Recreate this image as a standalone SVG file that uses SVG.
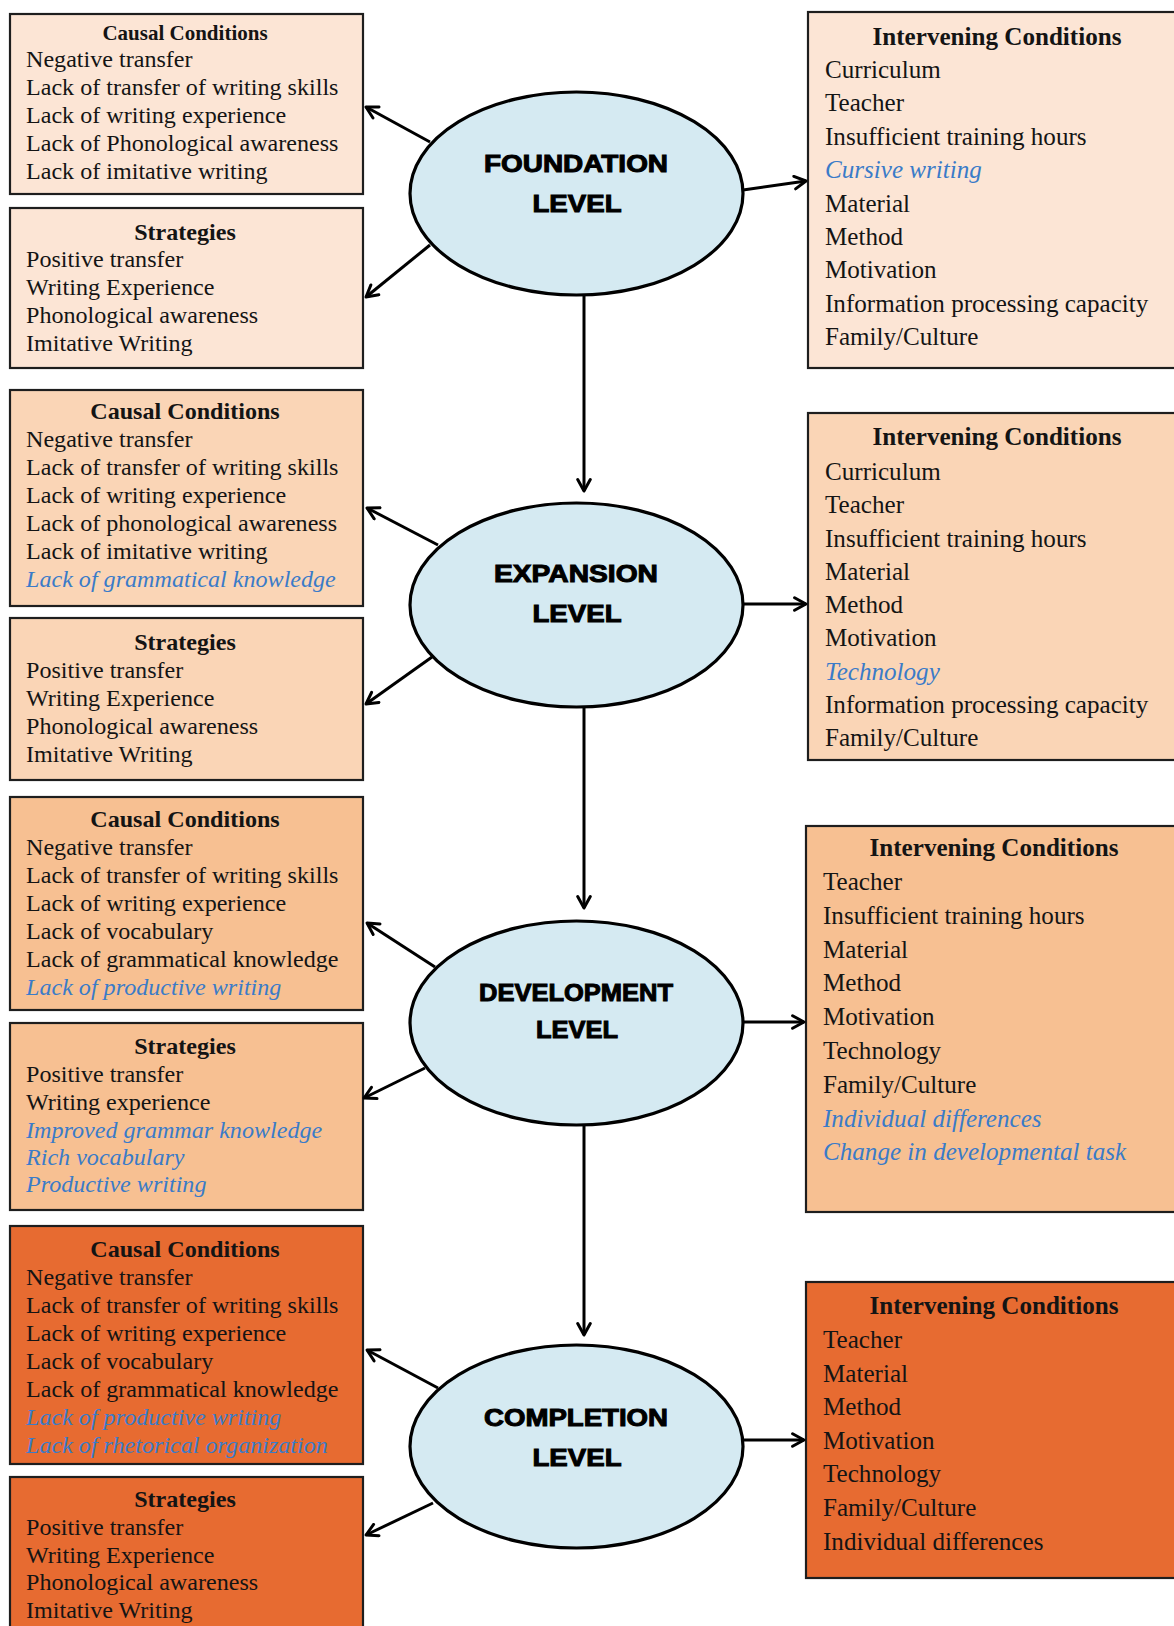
<svg xmlns="http://www.w3.org/2000/svg" width="1174" height="1626" viewBox="0 0 1174 1626">
<style>
.box{stroke:#1e1e1e;stroke-width:2.2}
.f{fill:#fce5d5}.e{fill:#fad5b6}.d{fill:#f7c092}.c{fill:#e76b31}
.t{font-family:"Liberation Serif","Times New Roman",serif;font-size:24.1px;fill:#141414}
.r{font-size:25.1px}
.h{font-weight:bold;text-anchor:middle}
.b{fill:#3a7bc8;font-style:italic}
.ell{fill:#d5eaf2;stroke:#000;stroke-width:3.2}
.lab{font-family:"Liberation Sans",Arial,sans-serif;font-weight:bold;font-size:24px;fill:#000;stroke:#000;stroke-width:1;text-anchor:middle}
.ar{stroke:#000;stroke-width:3;fill:none;marker-end:url(#ah)}
</style>
<defs>
<marker id="ah" viewBox="0 0 14 14" refX="12" refY="7" markerWidth="16" markerHeight="16" markerUnits="userSpaceOnUse" orient="auto">
<path d="M2,1.5 L12,7 L2,12.5" fill="none" stroke="#000" stroke-width="2.6" stroke-linecap="round" stroke-linejoin="round"/>
</marker>
</defs>
<rect width="1174" height="1626" fill="#fff"/>

<!-- FOUNDATION -->
<g id="foundation-causal">
<rect class="box f" x="10" y="14" width="353" height="180"/>
<text class="t h" x="185" y="40" style="font-size:21px">Causal Conditions</text>
<text class="t" x="26" y="67">Negative transfer</text>
<text class="t" x="26" y="95">Lack of transfer of writing skills</text>
<text class="t" x="26" y="123">Lack of writing experience</text>
<text class="t" x="26" y="151">Lack of Phonological awareness</text>
<text class="t" x="26" y="179">Lack of imitative writing</text>
</g>
<g id="foundation-strategies">
<rect class="box f" x="10" y="208" width="353" height="160"/>
<text class="t h" x="185" y="240">Strategies</text>
<text class="t" x="26" y="267">Positive transfer</text>
<text class="t" x="26" y="295">Writing Experience</text>
<text class="t" x="26" y="323">Phonological awareness</text>
<text class="t" x="26" y="351">Imitative Writing</text>
</g>
<g id="foundation-intervening">
<rect class="box f" x="808" y="12" width="380" height="356"/>
<text class="t r h" x="997" y="45">Intervening Conditions</text>
<text class="t r" x="825" y="78">Curriculum</text>
<text class="t r" x="825" y="111">Teacher</text>
<text class="t r" x="825" y="145">Insufficient training hours</text>
<text class="t r b" x="825" y="178">Cursive writing</text>
<text class="t r" x="825" y="212">Material</text>
<text class="t r" x="825" y="245">Method</text>
<text class="t r" x="825" y="278">Motivation</text>
<text class="t r" x="825" y="312">Information processing capacity</text>
<text class="t r" x="825" y="345">Family/Culture</text>
</g>
<g id="foundation-level">
<ellipse class="ell" cx="576.5" cy="193.5" rx="166.5" ry="101.5"/>
<text class="lab" x="576" y="172" textLength="184" lengthAdjust="spacingAndGlyphs">FOUNDATION</text>
<text class="lab" x="577" y="212" textLength="89" lengthAdjust="spacingAndGlyphs">LEVEL</text>
</g>

<!-- EXPANSION -->
<g id="expansion-causal">
<rect class="box e" x="10" y="390" width="353" height="216"/>
<text class="t h" x="185" y="419">Causal Conditions</text>
<text class="t" x="26" y="447">Negative transfer</text>
<text class="t" x="26" y="475">Lack of transfer of writing skills</text>
<text class="t" x="26" y="503">Lack of writing experience</text>
<text class="t" x="26" y="531">Lack of phonological awareness</text>
<text class="t" x="26" y="559">Lack of imitative writing</text>
<text class="t b" x="26" y="587">Lack of grammatical knowledge</text>
</g>
<g id="expansion-strategies">
<rect class="box e" x="10" y="618" width="353" height="162"/>
<text class="t h" x="185" y="650">Strategies</text>
<text class="t" x="26" y="678">Positive transfer</text>
<text class="t" x="26" y="706">Writing Experience</text>
<text class="t" x="26" y="734">Phonological awareness</text>
<text class="t" x="26" y="762">Imitative Writing</text>
</g>
<g id="expansion-intervening">
<rect class="box e" x="808" y="413" width="380" height="347"/>
<text class="t r h" x="997" y="445">Intervening Conditions</text>
<text class="t r" x="825" y="480">Curriculum</text>
<text class="t r" x="825" y="513">Teacher</text>
<text class="t r" x="825" y="547">Insufficient training hours</text>
<text class="t r" x="825" y="580">Material</text>
<text class="t r" x="825" y="613">Method</text>
<text class="t r" x="825" y="646">Motivation</text>
<text class="t r b" x="825" y="680">Technology</text>
<text class="t r" x="825" y="713">Information processing capacity</text>
<text class="t r" x="825" y="746">Family/Culture</text>
</g>
<g id="expansion-level">
<ellipse class="ell" cx="576.5" cy="605" rx="166.5" ry="102"/>
<text class="lab" x="576" y="582" textLength="164" lengthAdjust="spacingAndGlyphs">EXPANSION</text>
<text class="lab" x="577" y="622" textLength="89" lengthAdjust="spacingAndGlyphs">LEVEL</text>
</g>

<!-- DEVELOPMENT -->
<g id="development-causal">
<rect class="box d" x="10" y="797" width="353" height="213"/>
<text class="t h" x="185" y="827">Causal Conditions</text>
<text class="t" x="26" y="855">Negative transfer</text>
<text class="t" x="26" y="883">Lack of transfer of writing skills</text>
<text class="t" x="26" y="911">Lack of writing experience</text>
<text class="t" x="26" y="939">Lack of vocabulary</text>
<text class="t" x="26" y="967">Lack of grammatical knowledge</text>
<text class="t b" x="26" y="995">Lack of productive writing</text>
</g>
<g id="development-strategies">
<rect class="box d" x="10" y="1023" width="353" height="187"/>
<text class="t h" x="185" y="1054">Strategies</text>
<text class="t" x="26" y="1082">Positive transfer</text>
<text class="t" x="26" y="1110">Writing experience</text>
<text class="t b" x="26" y="1138">Improved grammar knowledge</text>
<text class="t b" x="26" y="1165">Rich vocabulary</text>
<text class="t b" x="26" y="1192">Productive writing</text>
</g>
<g id="development-intervening">
<rect class="box d" x="806" y="826" width="382" height="386"/>
<text class="t r h" x="994" y="856">Intervening Conditions</text>
<text class="t r" x="823" y="890">Teacher</text>
<text class="t r" x="823" y="924">Insufficient training hours</text>
<text class="t r" x="823" y="958">Material</text>
<text class="t r" x="823" y="991">Method</text>
<text class="t r" x="823" y="1025">Motivation</text>
<text class="t r" x="823" y="1059">Technology</text>
<text class="t r" x="823" y="1093">Family/Culture</text>
<text class="t r b" x="823" y="1127">Individual differences</text>
<text class="t r b" x="823" y="1160">Change in developmental task</text>
</g>
<g id="development-level">
<ellipse class="ell" cx="576.5" cy="1023" rx="166.5" ry="102"/>
<text class="lab" x="576" y="1001" textLength="194" lengthAdjust="spacingAndGlyphs">DEVELOPMENT</text>
<text class="lab" x="577" y="1038" textLength="82" lengthAdjust="spacingAndGlyphs">LEVEL</text>
</g>

<!-- COMPLETION -->
<g id="completion-causal">
<rect class="box c" x="10" y="1226" width="353" height="238"/>
<text class="t h" x="185" y="1257">Causal Conditions</text>
<text class="t" x="26" y="1285">Negative transfer</text>
<text class="t" x="26" y="1313">Lack of transfer of writing skills</text>
<text class="t" x="26" y="1341">Lack of writing experience</text>
<text class="t" x="26" y="1369">Lack of vocabulary</text>
<text class="t" x="26" y="1397">Lack of grammatical knowledge</text>
<text class="t b" x="26" y="1425">Lack of productive writing</text>
<text class="t b" x="26" y="1453">Lack of rhetorical organization</text>
</g>
<g id="completion-strategies">
<rect class="box c" x="10" y="1477" width="353" height="170"/>
<text class="t h" x="185" y="1507">Strategies</text>
<text class="t" x="26" y="1535">Positive transfer</text>
<text class="t" x="26" y="1563">Writing Experience</text>
<text class="t" x="26" y="1590">Phonological awareness</text>
<text class="t" x="26" y="1618">Imitative Writing</text>
</g>
<g id="completion-intervening">
<rect class="box c" x="806" y="1282" width="382" height="296"/>
<text class="t r h" x="994" y="1314">Intervening Conditions</text>
<text class="t r" x="823" y="1348">Teacher</text>
<text class="t r" x="823" y="1382">Material</text>
<text class="t r" x="823" y="1415">Method</text>
<text class="t r" x="823" y="1449">Motivation</text>
<text class="t r" x="823" y="1482">Technology</text>
<text class="t r" x="823" y="1516">Family/Culture</text>
<text class="t r" x="823" y="1550">Individual differences</text>
</g>
<g id="completion-level">
<ellipse class="ell" cx="576.5" cy="1446.5" rx="166.5" ry="101.5"/>
<text class="lab" x="576" y="1426" textLength="184" lengthAdjust="spacingAndGlyphs">COMPLETION</text>
<text class="lab" x="577" y="1466" textLength="89" lengthAdjust="spacingAndGlyphs">LEVEL</text>
</g>

<g id="connectors">
<path class="ar" d="M430,142 L366,107"/>
<path class="ar" d="M430,245 L366,297"/>
<path class="ar" d="M743,190 L806,181"/>
<path class="ar" d="M584,295 L584,491"/>

<path class="ar" d="M438,545 L367,508"/>
<path class="ar" d="M432,657 L366,704"/>
<path class="ar" d="M743,604 L806,604"/>
<path class="ar" d="M584,707 L584,908"/>

<path class="ar" d="M435,967 L367,923"/>
<path class="ar" d="M425,1068 L364,1098"/>
<path class="ar" d="M743,1022 L804,1022"/>
<path class="ar" d="M584,1125 L584,1335"/>

<path class="ar" d="M438,1388 L367,1350"/>
<path class="ar" d="M433,1503 L366,1535"/>
<path class="ar" d="M743,1440 L804,1440"/>
</g>
</svg>
